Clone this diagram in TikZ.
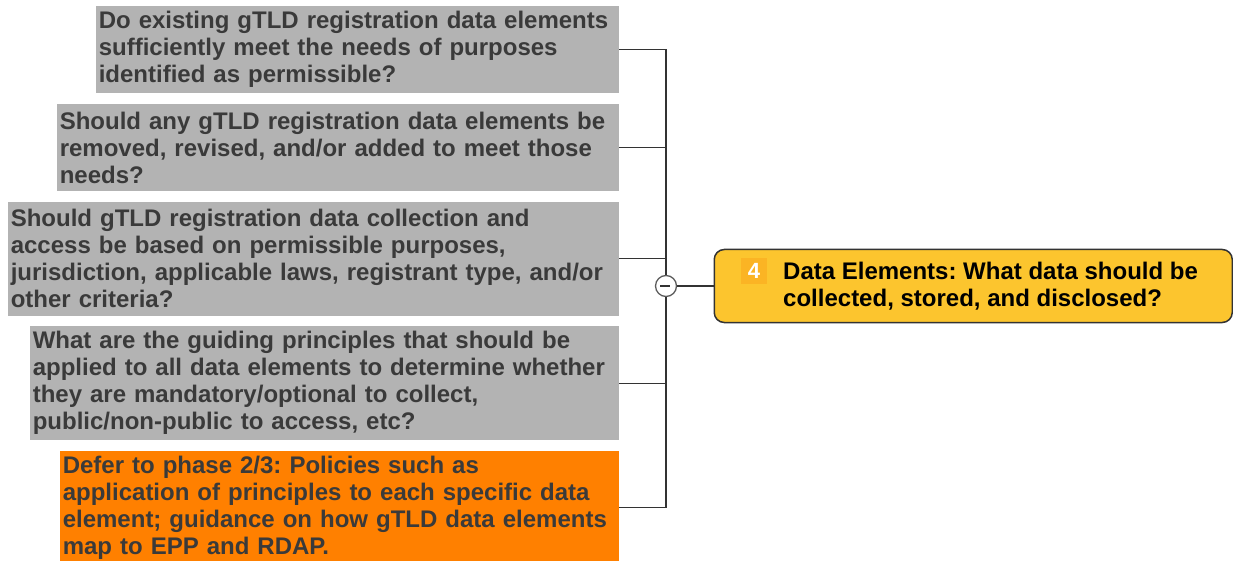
\documentclass[tikz,border=0pt]{standalone}
\usepackage{fontspec}
\setmainfont{Liberation Sans}
\usetikzlibrary{positioning}
\frenchspacing

\definecolor{qgray}{HTML}{B3B3B3}
\definecolor{qtext}{HTML}{3A3A3A}
\definecolor{deferorange}{HTML}{FF8000}
\definecolor{topicyellow}{HTML}{FCC52E}
\definecolor{numyellow}{HTML}{FBB424}
\definecolor{linkgray}{HTML}{333333}

\begin{document}
\begin{tikzpicture}[x=1pt,y=-1pt,
  question/.style={fill=qgray, text=qtext, font=\bfseries\fontsize{24}{27}\selectfont,
    align=left, inner xsep=3pt, inner ysep=0pt, minimum height=87pt},
  deferbox/.style={question, fill=deferorange},
  link/.style={draw=linkgray, line width=1.3pt},
  node distance=10.5pt]

\useasboundingbox (0,0) rectangle (1233,561);

% define the questions on the left
  \node[question, text width=517pt] (q1) [anchor=north east] at (619,6)
{Do existing gTLD registration data elements\\sufficiently meet the needs of purposes\\identified as permissible?};
  \node[question, text width=556pt] (q2) [below=of q1.south east, anchor=north east]
{Should any gTLD registration data elements be\\removed, revised, and/or added to meet those\\needs?};
  \node[question, text width=605pt, minimum height=113.5pt] (q3) [below=of q2.south east, anchor=north east]
{Should gTLD registration data collection and\\access be based on permissible purposes,\\jurisdiction, applicable laws, registrant type, and/or\\other criteria?};
  \node[question, text width=583pt, minimum height=113.5pt] (q4) [below=of q3.south east, anchor=north east]
{What are the guiding principles that should be\\applied to all data elements to determine whether\\they are mandatory/optional to collect,\\public/non-public to access, etc?};
  \node[deferbox, text width=553pt, minimum height=113.5pt] (q5) [below=of q4.south east, anchor=north east]
{Defer to phase 2/3: Policies such as\\application of principles to each specific data\\element; guidance on how gTLD data elements\\map to EPP and RDAP.};

% define the topic on the right
  \node[draw=linkgray, line width=1.5pt, fill=topicyellow, rounded corners=10pt,
    minimum width=518pt, minimum height=73pt, anchor=west] (topic) at (713.5,286) {};
  \node[fill=numyellow, text=white, font=\bfseries\fontsize{22}{22}\selectfont,
    minimum size=26pt, inner sep=0pt] (num) at (754,271) {4};
  \node[font=\bfseries\fontsize{24}{27}\selectfont, align=left, inner sep=0pt,
    anchor=west] (topictext) at (783,286)
{Data Elements: What data should be\\collected, stored, and disclosed?};

% define the collapse button
  \node[circle, draw=linkgray!80, line width=1.3pt, fill=white, minimum size=21pt,
    inner sep=0pt] (hub) at (666,286) {};
  \draw[linkgray, line width=1.3pt] (hub.west) ++(5.5,0) -- ++(10,0);

% define the links
  \path[link] (q1) -| (hub);
  \path[link] (q2) -| (hub);
  \path[link] (q3) -| (hub);
  \path[link] (q4) -| (hub);
  \path[link] (q5) -| (hub);
  \path[link] (hub) -- (topic);

\end{tikzpicture}
\end{document}
